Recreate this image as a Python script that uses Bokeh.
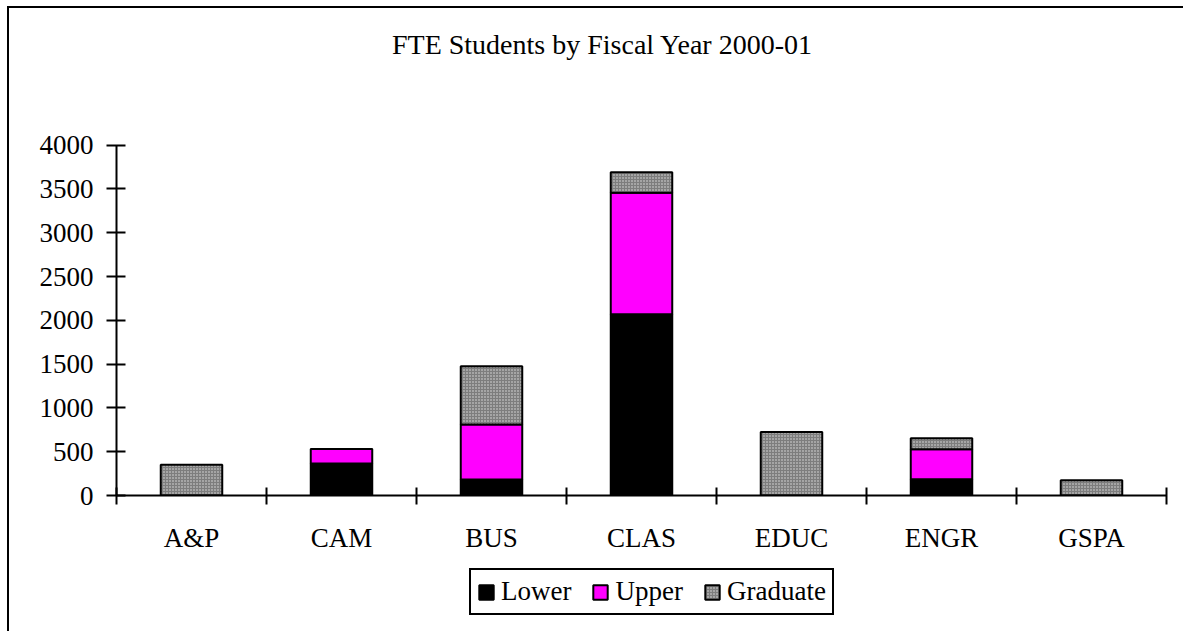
from bokeh.plotting import figure
from bokeh.layouts import column
from bokeh.models import (Range1d, FixedTicker, Legend, LegendItem, Label, ColumnDataSource)
from bokeh.embed import file_html
from bokeh.resources import INLINE

categories = ["A&P", "CAM", "BUS", "CLAS", "EDUC", "ENGR", "GSPA"]
lower = [0, 365, 182, 2070, 0, 186, 0]
upper = [0, 165, 628, 1386, 0, 342, 0]
graduate = [350, 0, 665, 235, 726, 125, 175]
series = ["Lower", "Upper", "Graduate"]
y_ticks = [0, 500, 1000, 1500, 2000, 2500, 3000, 3500, 4000]
title_text = "FTE Students by Fiscal Year 2000-01"

FONT = "Liberation Serif"
FS = "27px"

n = len(categories)
xc = [i + 0.5 for i in range(n)]
source = ColumnDataSource(dict(x=xc, Lower=lower, Upper=upper, Graduate=graduate))

# layout constants (pixels / headroom), not data
x_pad = 17.0 / 150.0          # frame runs to the right edge; axis stops at last category
y_top = 4000 * 487.0 / 350.3   # headroom above 4000 holds the title
bar_style = dict(width=0.41, fill_color=["black", "#ff00ff", "#7d7d7d"],
                 line_color="black", line_width=2,
                 hatch_pattern=[" ", " ", "dot"],
                 hatch_color=["black", "black", "#e0e0e0"],
                 hatch_scale=[3, 3, 3], hatch_weight=[1, 1, 1])

p = figure(width=1174, height=547, output_backend="svg", toolbar_location=None,
           x_range=Range1d(0, n + x_pad), y_range=Range1d(0, y_top),
           min_border_left=107, min_border_right=0, min_border_top=0, min_border_bottom=60)
p.outline_line_color = None
p.xgrid.visible = False
p.ygrid.visible = False
p.background_fill_color = "white"
p.border_fill_color = "white"

p.vbar_stack(series, x="x", source=source, **bar_style)

p.add_layout(Label(x=3.24, y=4000 * (487.0 - 36.0) / 350.3, text=title_text,
                   text_align="center", text_baseline="alphabetic",
                   text_font=FONT, text_font_size="28px", text_color="black"))

# y axis
ya = p.yaxis[0]
ya.bounds = (0, 4000)
ya.ticker = FixedTicker(ticks=y_ticks)
ya.major_tick_in = 9
ya.major_tick_out = 10
ya.minor_tick_in = 0
ya.minor_tick_out = 0
ya.axis_line_width = 2
ya.major_tick_line_width = 2
ya.major_label_standoff = 13
ya.major_label_text_font = FONT
ya.major_label_text_font_size = FS
ya.major_label_text_color = "black"

# x axis
xa = p.xaxis[0]
xa.bounds = (0, n)
xa.ticker = FixedTicker(ticks=xc, minor_ticks=list(range(n + 1)))
xa.major_label_overrides = {x: c for x, c in zip(xc, categories)}
xa.major_tick_in = 0
xa.major_tick_out = 0
xa.minor_tick_in = 8
xa.minor_tick_out = 9
xa.minor_tick_line_width = 2
xa.minor_tick_line_color = "black"
xa.axis_line_width = 2
xa.major_label_standoff = 18
xa.major_label_text_font = FONT
xa.major_label_text_font_size = FS
xa.major_label_text_color = "black"

# legend strip below the chart (same series, hidden, so only the key shows)
lf = figure(width=1174, height=76, output_backend="svg", toolbar_location=None,
            x_range=p.x_range, y_range=Range1d(-2, -1),
            x_axis_location=None, y_axis_location=None, min_border=0)
lf.outline_line_color = None
lf.grid.visible = False
lf.background_fill_color = "white"
lf.border_fill_color = "white"
key_renderers = lf.vbar_stack(series, x="x", source=source, **bar_style)
for r in key_renderers:
    r.visible = False

legend = Legend(items=[LegendItem(label=s, renderers=[r]) for s, r in zip(series, key_renderers)],
                orientation="horizontal", location=(353, 16),
                border_line_color="black", border_line_width=2, border_line_alpha=1,
                glyph_width=18, glyph_height=18, label_standoff=6, spacing=20,
                padding=6, margin=0, inactive_fill_alpha=0,
                label_text_font=FONT, label_text_font_size=FS, label_text_color="black",
                background_fill_color="white", background_fill_alpha=1)
lf.add_layout(legend)

layout = column(p, lf, spacing=0,
                styles={"transform": "translate(7px, 6px)",
                        "border-top": "2px solid black", "border-left": "2px solid black"})

open("out.html", "w").write(file_html(layout, INLINE))
